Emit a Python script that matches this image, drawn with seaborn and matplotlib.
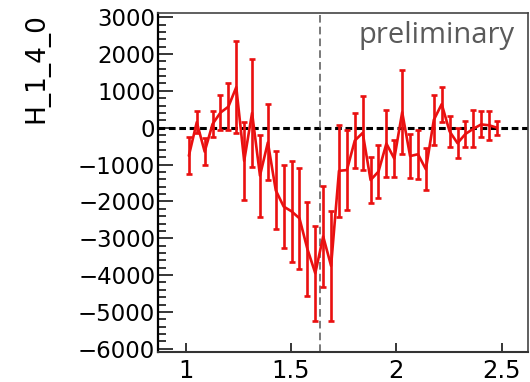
import numpy as np
import pandas as pd
import matplotlib
matplotlib.use("Agg")
import matplotlib.pyplot as plt
import seaborn as sns
from matplotlib.ticker import MultipleLocator

# ---- data ----
x_values = [1.015, 1.0525, 1.09, 1.1275, 1.165, 1.2025, 1.24, 1.2775, 1.315, 1.3525,
            1.39, 1.4275, 1.465, 1.5025, 1.54, 1.5775, 1.615, 1.6525, 1.69, 1.7275,
            1.765, 1.8025, 1.84, 1.8775, 1.915, 1.9525, 1.99, 2.0275, 2.065, 2.1025,
            2.14, 2.1775, 2.215, 2.2525, 2.29, 2.3275, 2.365, 2.4025, 2.44, 2.4775]
y_values = [-760, 150, -650, 100, 410, 570, 1100, -900, 400, -1300,
            -400, -1700, -2140, -2270, -2460, -3290, -3950, -2950, -3750, -1170,
            -1150, -350, -140, -1420, -1190, -430, -840, 420, -770, -720,
            -1130, 210, 640, -100, -420, -170, -30, 90, 65, 0]
y_errors = [500, 290, 360, 340, 475, 630, 1250, 1050, 1470, 1110,
            1030, 1060, 1130, 1370, 1380, 1270, 1290, 1370, 1490, 1250,
            1085, 755, 1000, 620, 720, 900, 510, 1140, 600, 660,
            570, 680, 475, 430, 410, 350, 500, 350, 400, 195]
x_ticks = [1, 1.5, 2, 2.5]
x_tick_labels = ["1", "1.5", "2", "2.5"]
y_ticks = [-6000, -5000, -4000, -3000, -2000, -1000, 0, 1000, 2000, 3000]
y_tick_labels = ["\u22126000", "\u22125000", "\u22124000", "\u22123000", "\u22122000",
                 "\u22121000", "0", "1000", "2000", "3000"]
marker_x = 1.637
y_title = "H_1_4_0"
note = "preliminary"

sns.set_theme(style="white")
plt.rcParams['font.family'] = ['DejaVu Sans']

W, H = 530, 382
fig = plt.figure(figsize=(W / 100, H / 100), dpi=100)
fig.patch.set_facecolor("white")
ax = fig.add_axes([158 / W, 1 - 352 / H, (528 - 158) / W, (352 - 13) / H])
ax.set_facecolor("white")

df = pd.DataFrame({"x": x_values, "y": y_values})
red = "#ea1010"

ax.axhline(0, color="black", lw=2.2, dashes=(2.2, 1.2), zorder=1)
ax.axvline(marker_x, color="#555555", lw=1.1, dashes=(5, 2.7), zorder=1)
ax.errorbar(x_values, y_values, yerr=y_errors, fmt="none", ecolor=red,
            elinewidth=1.9, capsize=2.5, capthick=1.9, zorder=2)
sns.lineplot(data=df, x="x", y="y", color=red, lw=1.9, ax=ax, zorder=3,
             estimator=None, sort=True)

ax.set_xlim(0.8685, 2.6246)
ax.set_ylim(-6087, 3113)
ax.set_xlabel("")
ax.set_ylabel("")

ax.set_xticks(x_ticks)
ax.set_xticklabels(x_tick_labels)
ax.set_yticks(y_ticks)
ax.set_yticklabels(y_tick_labels)
ax.yaxis.set_minor_locator(MultipleLocator(200))

ax.tick_params(axis="y", which="major", direction="in", length=11, width=1.1,
               labelsize=16.5, pad=2, left=True, colors="black")
ax.tick_params(axis="y", which="minor", direction="in", length=5.8, width=1.1,
               left=True, color="black")
ax.tick_params(axis="x", which="major", direction="in", length=6.5, width=1.1,
               labelsize=17.5, pad=5, bottom=True, colors="black")

for side, lw, col in [("left", 1.6, "black"), ("bottom", 1.5, "#333333"),
                      ("top", 1.2, "#444444"), ("right", 1.2, "#444444")]:
    ax.spines[side].set_visible(True)
    ax.spines[side].set_linewidth(lw)
    ax.spines[side].set_color(col)

fig.text(36 / W, 1 - 13 / H, y_title, rotation=90, ha="center", va="top",
         fontsize=19, color="black")
fig.text(515 / W, 1 - 43.3 / H, note, ha="right", va="baseline",
         fontsize=21, color="#5a5a5a", family=["Open Sans", "DejaVu Sans"])

fig.savefig("out.png", dpi=100, facecolor="white")
